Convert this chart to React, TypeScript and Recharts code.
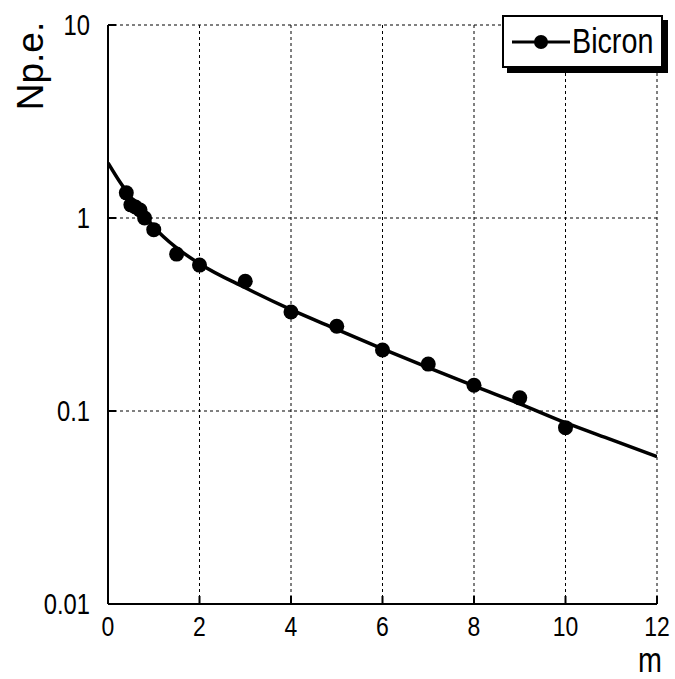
import React from 'react';
import { ComposedChart, Line, Scatter, XAxis, YAxis, CartesianGrid, Legend, Label } from 'recharts';

// measured points (Bicron)
const distances = [0.4, 0.5, 0.6, 0.7, 0.8, 1, 1.5, 2, 3, 4, 5, 6, 7, 8, 9, 10];
const npe = [1.35, 1.17, 1.14, 1.1, 1.0, 0.87, 0.65, 0.57, 0.47, 0.326, 0.275, 0.207, 0.175, 0.136, 0.117, 0.082];

// fitted curve
const fitX = [0, 0.25, 0.5, 0.75, 1, 1.5, 2, 3, 4, 5, 6, 7, 8, 9, 10, 11, 12];
const fitY = [1.93, 1.55, 1.28, 1.07, 0.9, 0.7, 0.58, 0.435, 0.335, 0.265, 0.21, 0.168, 0.135, 0.109, 0.087, 0.071, 0.058];

const xTicks = [0, 2, 4, 6, 8, 10, 12];
const yTicks = [0.01, 0.1, 1, 10];

const FONT = '"Liberation Sans", Arial, sans-serif';
const SQUEEZE = 0.82; // the original lettering is horizontally condensed

const points = distances.map((x, i) => ({ x, y: npe[i] }));
const fit = fitX.map((x, i) => ({ x, y: fitY[i] }));

const Dot = (props: any) => <circle cx={props.cx} cy={props.cy} r={7.5} fill="#000" />;

const XTick = (props: any) => (
    <g transform={`translate(${props.x},${props.y})`}>
        <text transform={`scale(${SQUEEZE},1)`} textAnchor="middle" dy="0.71em"
            fontFamily={FONT} fontSize={28} fill="#000">{props.payload.value}</text>
    </g>
);

const YTick = (props: any) => (
    <g transform={`translate(${props.x},${props.y})`}>
        <text transform={`scale(${SQUEEZE},1)`} textAnchor="end" dy="0.355em"
            fontFamily={FONT} fontSize={29} fill="#000">{String(props.payload.value)}</text>
    </g>
);

const LegendBox = () => (
    <div style={{
        width: 161, height: 53, boxSizing: 'border-box', border: '2px solid #000',
        background: '#fff', boxShadow: '5px 5px 0 #000', position: 'relative',
    }}>
        <svg width={70} height={49} style={{ position: 'absolute', left: 0, top: 0 }}>
            <line x1={8} y1={25} x2={66} y2={25} stroke="#000" strokeWidth={3} />
            <circle cx={37} cy={25} r={7} fill="#000" />
        </svg>
        <span style={{
            position: 'absolute', left: 68, top: 4, fontFamily: FONT, fontSize: 35,
            lineHeight: '40px', color: '#000', transform: `scaleX(${SQUEEZE})`, transformOrigin: 'left center',
        }}>Bicron</span>
    </div>
);

const App: React.FC = () => {
    return (
        <div style={{ position: 'absolute', left: 0, top: 0 }}>
            <ComposedChart width={675} height={679} margin={{ top: 25, right: 18, left: 0, bottom: 0 }}>
                <CartesianGrid stroke="#000" strokeDasharray="3 3" strokeWidth={1} />
                <XAxis
                    type="number" dataKey="x" domain={[0, 12]} ticks={xTicks} height={75}
                    axisLine={{ stroke: '#000', strokeWidth: 2 }} tickLine={{ stroke: '#000', strokeWidth: 2 }}
                    tickSize={-8} tickMargin={20} tick={<XTick />} allowDataOverflow
                >
                    <Label content={() => (
                        <g transform="translate(650,672)">
                            <text transform={`scale(${SQUEEZE},1)`} textAnchor="middle" fontFamily={FONT}
                                fontSize={35} fill="#000">m</text>
                        </g>
                    )} />
                </XAxis>
                <XAxis
                    xAxisId="top" orientation="top" type="number" dataKey="x" domain={[0, 12]} ticks={xTicks}
                    height={0} axisLine={{ stroke: '#000', strokeWidth: 2 }} tickLine={{ stroke: '#000', strokeWidth: 2 }}
                    tickSize={-8} tick={false} allowDataOverflow
                />
                <YAxis
                    type="number" scale="log" domain={[0.01, 10]} ticks={yTicks} width={108}
                    axisLine={{ stroke: '#000', strokeWidth: 2 }} tickLine={{ stroke: '#000', strokeWidth: 2 }}
                    tickSize={-8} tickMargin={26} tick={<YTick />} allowDataOverflow
                >
                    <Label content={() => (
                        <text x={43} y={66} transform="rotate(-90 43 66)" textAnchor="middle"
                            fontFamily={FONT} fontSize={37} fill="#000">Np.e.</text>
                    )} />
                </YAxis>
                <YAxis
                    yAxisId="right" orientation="right" type="number" scale="log" domain={[0.01, 10]} ticks={yTicks}
                    width={0} axisLine={{ stroke: '#000', strokeWidth: 2 }} tickLine={{ stroke: '#000', strokeWidth: 2 }}
                    tickSize={-8} tick={false} allowDataOverflow
                />
                <Line
                    data={fit} dataKey="y" type="monotone" stroke="#000" strokeWidth={3.5}
                    dot={false} activeDot={false} isAnimationActive={false} legendType="none"
                />
                <Scatter data={points} dataKey="y" fill="#000" shape={Dot} isAnimationActive={false} />
                <Legend
                    layout="horizontal" verticalAlign="middle" align="center"
                    wrapperStyle={{ left: 502, top: 15, width: 'auto', height: 'auto' }}
                    content={() => <LegendBox />}
                />
            </ComposedChart>
        </div>
    );
};

export default App;
